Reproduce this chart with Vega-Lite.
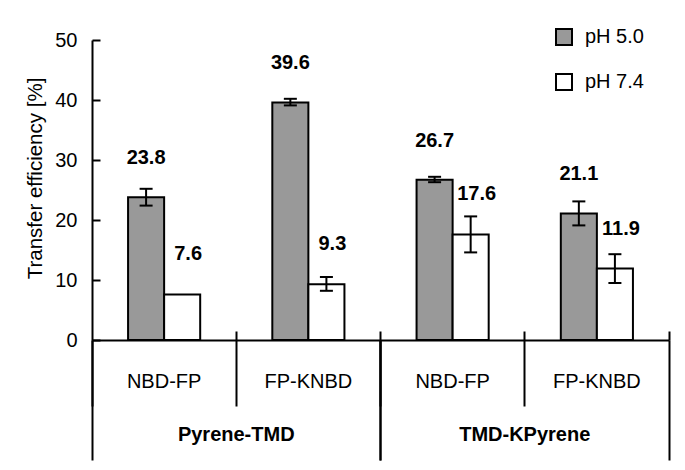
{
  "$schema": "https://vega.github.io/schema/vega-lite/v6.json",
  "width": 577,
  "height": 300,
  "autosize": {"type": "none"},
  "padding": {"left": 92, "top": 40, "right": 16, "bottom": 130},
  "background": "white",
  "config": {
    "view": {"stroke": null},
    "axis": {"grid": false, "domainColor": "black", "tickColor": "black", "labelColor": "black", "titleColor": "black", "labelFont": "Liberation Sans", "titleFont": "Liberation Sans"},
    "text": {"font": "Liberation Sans"}
  },
  "datasets": {
    "bars": [
      {"group": "Pyrene-TMD", "sub": "NBD-FP", "key": "Pyrene-TMD|NBD-FP", "ph": "pH 5.0", "value": 23.8, "lo": 22.4, "hi": 25.2},
      {"group": "Pyrene-TMD", "sub": "NBD-FP", "key": "Pyrene-TMD|NBD-FP", "ph": "pH 7.4", "value": 7.6, "lo": null, "hi": null},
      {"group": "Pyrene-TMD", "sub": "FP-KNBD", "key": "Pyrene-TMD|FP-KNBD", "ph": "pH 5.0", "value": 39.6, "lo": 39.1, "hi": 40.2},
      {"group": "Pyrene-TMD", "sub": "FP-KNBD", "key": "Pyrene-TMD|FP-KNBD", "ph": "pH 7.4", "value": 9.3, "lo": 8.2, "hi": 10.5},
      {"group": "TMD-KPyrene", "sub": "NBD-FP", "key": "TMD-KPyrene|NBD-FP", "ph": "pH 5.0", "value": 26.7, "lo": 26.3, "hi": 27.2},
      {"group": "TMD-KPyrene", "sub": "NBD-FP", "key": "TMD-KPyrene|NBD-FP", "ph": "pH 7.4", "value": 17.6, "lo": 14.6, "hi": 20.6},
      {"group": "TMD-KPyrene", "sub": "FP-KNBD", "key": "TMD-KPyrene|FP-KNBD", "ph": "pH 5.0", "value": 21.1, "lo": 19.1, "hi": 23.1},
      {"group": "TMD-KPyrene", "sub": "FP-KNBD", "key": "TMD-KPyrene|FP-KNBD", "ph": "pH 7.4", "value": 11.9, "lo": 9.5, "hi": 14.3}
    ],
    "groups": [
      {"group": "Pyrene-TMD"},
      {"group": "TMD-KPyrene"}
    ]
  },
  "layer": [
    {
      "data": {"name": "bars"},
      "encoding": {
        "x": {
          "field": "key", "type": "nominal",
          "scale": {"type": "band", "domain": ["Pyrene-TMD|NBD-FP", "Pyrene-TMD|FP-KNBD", "TMD-KPyrene|NBD-FP", "TMD-KPyrene|FP-KNBD"], "paddingInner": 0, "paddingOuter": 0},
          "axis": {"orient": "bottom", "title": null, "bandPosition": 0, "tickSize": 66, "tickWidth": 2, "domainWidth": 2, "labelExpr": "split(datum.label, '|')[1]", "labelPadding": -35, "labelFontSize": 20, "labelAngle": 0}
        },
        "xOffset": {"field": "ph", "type": "nominal", "scale": {"domain": ["pH 5.0", "pH 7.4"], "paddingInner": 0, "paddingOuter": 1.254}}
      },
      "layer": [
        {
          "mark": {"type": "bar", "stroke": "black", "strokeWidth": 2},
          "encoding": {
            "y": {
              "field": "value", "type": "quantitative",
              "scale": {"domain": [0, 50]},
              "axis": {"title": "Transfer efficiency [%]", "values": [0, 5, 10, 15, 20, 25, 30, 35, 40, 45, 50], "labelExpr": "datum.value % 10 === 0 ? datum.label : ''", "tickSize": -8, "tickWidth": 2, "domainWidth": 2, "labelPadding": 23, "labelFontSize": 20, "titleFontSize": 20.5, "titleFontWeight": "normal", "titlePadding": 9, "titleY": 138}
            },
            "color": {
              "field": "ph", "type": "nominal",
              "scale": {"domain": ["pH 5.0", "pH 7.4"], "range": ["#999999", "#ffffff"]},
              "legend": {"orient": "none", "legendX": 462, "legendY": -13, "title": null, "symbolType": "square", "symbolSize": 256, "symbolStrokeColor": "black", "symbolStrokeWidth": 2, "labelFontSize": 20, "labelFont": "Liberation Sans", "labelColor": "black", "labelOffset": 11, "rowPadding": 21, "padding": 0}
            }
          }
        },
        {
          "transform": [{"filter": "datum.lo != null"}],
          "mark": {"type": "rule", "color": "black", "strokeWidth": 2},
          "encoding": {
            "y": {"field": "lo", "type": "quantitative"},
            "y2": {"field": "hi"}
          }
        },
        {
          "transform": [{"filter": "datum.lo != null"}],
          "mark": {"type": "tick", "orient": "horizontal", "size": 13, "thickness": 2, "color": "black", "opacity": 1},
          "encoding": {"y": {"field": "lo", "type": "quantitative"}}
        },
        {
          "transform": [{"filter": "datum.hi != null"}],
          "mark": {"type": "tick", "orient": "horizontal", "size": 13, "thickness": 2, "color": "black", "opacity": 1},
          "encoding": {"y": {"field": "hi", "type": "quantitative"}}
        },
        {
          "transform": [{"filter": "datum.ph === 'pH 5.0'"}],
          "mark": {"type": "text", "fontWeight": "bold", "fontSize": 20, "dy": -39, "baseline": "middle", "color": "black"},
          "encoding": {
            "y": {"field": "value", "type": "quantitative"},
            "text": {"field": "value", "type": "quantitative", "format": ".1f"}
          }
        },
        {
          "transform": [{"filter": "datum.ph === 'pH 7.4'"}],
          "mark": {"type": "text", "fontWeight": "bold", "fontSize": 20, "dy": -40, "dx": 6, "baseline": "middle", "color": "black"},
          "encoding": {
            "y": {"field": "value", "type": "quantitative"},
            "text": {"field": "value", "type": "quantitative", "format": ".1f"}
          }
        }
      ]
    },
    {
      "data": {"name": "bars"},
      "mark": {"type": "point", "opacity": 0},
      "encoding": {
        "x": {
          "field": "key", "type": "nominal",
          "scale": {"type": "band", "domain": ["Pyrene-TMD|NBD-FP", "Pyrene-TMD|FP-KNBD", "TMD-KPyrene|NBD-FP", "TMD-KPyrene|FP-KNBD"], "paddingInner": 0, "paddingOuter": 0},
          "axis": {"orient": "bottom", "title": null, "labels": false, "domain": false, "bandPosition": 1, "tickSize": -9, "tickWidth": 2}
        }
      }
    },
    {
      "data": {"name": "groups"},
      "mark": {"type": "point", "opacity": 0},
      "encoding": {
        "x": {
          "field": "group", "type": "nominal",
          "scale": {"type": "band", "domain": ["Pyrene-TMD", "TMD-KPyrene"], "paddingInner": 0, "paddingOuter": 0},
          "axis": {"orient": "bottom", "title": null, "domain": false, "bandPosition": 0, "tickSize": 120, "tickWidth": 2, "labelPadding": -36, "labelFontSize": 20, "labelFontWeight": "bold", "labelAngle": 0}
        }
      }
    },
    {
      "data": {"name": "groups"},
      "mark": {"type": "point", "opacity": 0},
      "encoding": {
        "x": {
          "field": "group", "type": "nominal",
          "scale": {"type": "band", "domain": ["Pyrene-TMD", "TMD-KPyrene"], "paddingInner": 0, "paddingOuter": 0},
          "axis": {"orient": "bottom", "title": null, "labels": false, "domain": false, "bandPosition": 1, "tickSize": 120, "tickWidth": 2}
        }
      }
    }
  ],
  "resolve": {"scale": {"x": "independent"}, "axis": {"x": "independent"}}
}
